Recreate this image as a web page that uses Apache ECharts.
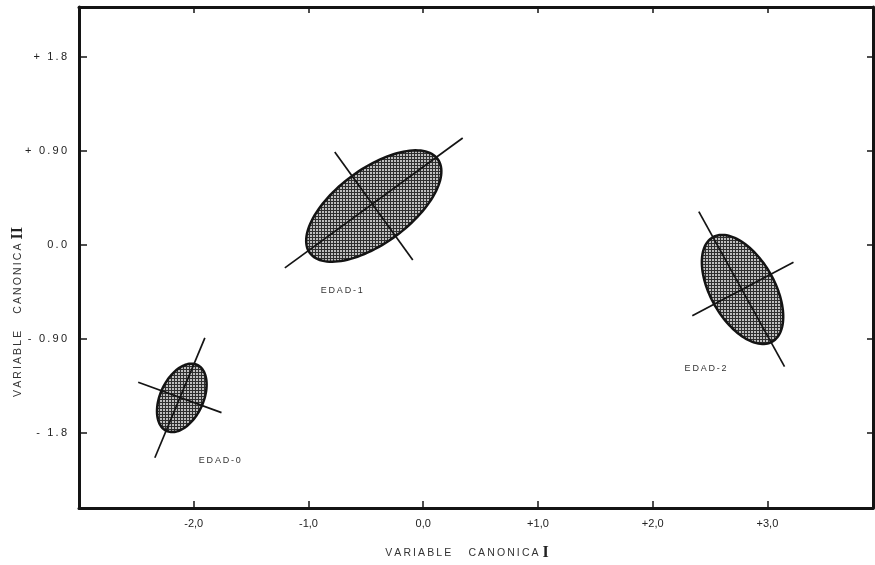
<!DOCTYPE html>
<html>
<head>
<meta charset="utf-8">
<script src="https://cdn.jsdelivr.net/npm/echarts@6/dist/echarts.min.js"></script>
<style>
html,body{margin:0;padding:0;background:#fff;}
#chart{width:875px;height:565px;}
</style>
</head>
<body>
<div id="chart"></div>
<script>
// ---- data ----
const xMin = -3, xMax = 3.92, yMin = -2.52, yMax = 2.28;
const xTicks = [-2, -1, 0, 1, 2, 3];
const xTickLabels = ['-2,0', '-1,0', '0,0', '+1,0', '+2,0', '+3,0'];
const yTicks = [-1.8, -0.9, 0, 0.9, 1.8];
const yTickLabels = ['- 1.8', '- 0.90', '0.0', '+ 0.90', '+ 1.8'];
const groups = ['EDAD-0', 'EDAD-1', 'EDAD-2'];
const centers = [[-2.104, -1.465], [-0.431, 0.373], [2.783, -0.426]];
const majorTips = [[-1.970, -1.149], [0.126, 0.823], [2.524, 0.074]];
const minorTips = [[-2.280, -1.395], [-0.240, 0.086], [2.539, -0.574]];
const majorLines = [[[-2.339, -2.039], [-1.903, -0.890]], [[-1.206, -0.220], [0.344, 1.025]], [[2.402, 0.319], [3.149, -1.165]]];
const minorLines = [[[-2.484, -1.315], [-1.758, -1.606]], [[-0.771, 0.890], [-0.091, -0.144]], [[2.345, -0.677], [3.227, -0.166]]];
const labelAnchors = [[-1.773, -2.068], [-0.710, -0.440], [2.461, -1.187]];
const xTitle = 'VARIABLE   CANONICA';
const yTitle = 'VARIABLE   CANONICA';

// ---- helpers ----
function spaced(s) { return s.split('').join('\u2009'); }
const pat = document.createElement('canvas');
pat.width = 3; pat.height = 3;
(function () {
  const g = pat.getContext('2d');
  g.fillStyle = '#bdbdbd'; g.fillRect(0, 0, 3, 3);
  g.fillStyle = '#2e2e2e'; g.fillRect(0, 0, 3, 1); g.fillRect(0, 0, 1, 3);
})();
const ink = '#141414';
const tickFont = '"Liberation Sans", "DejaVu Sans", sans-serif';

const chart = echarts.init(document.getElementById('chart'), null, { renderer: 'canvas' });

function renderItem(params, api) {
  const i = api.value(2);
  const c = api.coord(centers[i]);
  const mt = api.coord(majorTips[i]);
  const nt = api.coord(minorTips[i]);
  const a = Math.hypot(mt[0] - c[0], mt[1] - c[1]);
  const b = Math.hypot(nt[0] - c[0], nt[1] - c[1]);
  const ux = (mt[0] - c[0]) / a, uy = (mt[1] - c[1]) / a;
  const vx = -uy, vy = ux;
  const pts = [];
  for (let k = 0; k < 120; k++) {
    const t = k / 120 * Math.PI * 2;
    const ca = Math.cos(t) * a, sb = Math.sin(t) * b;
    pts.push([c[0] + ca * ux + sb * vx, c[1] + ca * uy + sb * vy]);
  }
  const m0 = api.coord(majorLines[i][0]), m1 = api.coord(majorLines[i][1]);
  const n0 = api.coord(minorLines[i][0]), n1 = api.coord(minorLines[i][1]);
  const lp = api.coord(labelAnchors[i]);
  return {
    type: 'group',
    children: [
      { type: 'polygon', shape: { points: pts }, style: { fill: { image: pat, repeat: 'repeat' }, stroke: ink, lineWidth: 2.5 } },
      { type: 'line', shape: { x1: m0[0], y1: m0[1], x2: m1[0], y2: m1[1] }, style: { stroke: ink, lineWidth: 1.7 } },
      { type: 'line', shape: { x1: n0[0], y1: n0[1], x2: n1[0], y2: n1[1] }, style: { stroke: ink, lineWidth: 1.7 } },
      { type: 'text', style: { text: spaced(groups[i]), x: lp[0], y: lp[1], fill: '#333', font: '9px "Liberation Sans", sans-serif', textAlign: 'center', textVerticalAlign: 'middle' } }
    ]
  };
}

const axisLine = { onZero: false, lineStyle: { color: ink, width: 3 } };
const tickStyle = { color: ink, width: 1.5 };

chart.setOption({
  animation: false,
  backgroundColor: '#fff',
  grid: { left: 79, right: 2, top: 7, bottom: 57, containLabel: false, outerBoundsMode: 'none' },
  xAxis: [
    {
      type: 'value', min: xMin, max: xMax, position: 'bottom',
      axisLine: axisLine,
      axisTick: { inside: true, length: 7, customValues: xTicks, lineStyle: tickStyle },
      axisLabel: {
        customValues: xTicks, margin: 10, fontSize: 11, color: '#222', fontFamily: tickFont,
        formatter: v => xTickLabels[xTicks.findIndex(t => Math.abs(t - v) < 1e-6)] || ''
      },
      splitLine: { show: false }
    },
    {
      type: 'value', min: xMin, max: xMax, position: 'top',
      axisLine: axisLine,
      axisTick: { inside: true, length: 6, customValues: xTicks, lineStyle: tickStyle },
      axisLabel: { show: false },
      splitLine: { show: false }
    }
  ],
  yAxis: [
    {
      type: 'value', min: yMin, max: yMax, position: 'left',
      axisLine: axisLine,
      axisTick: { inside: true, length: 8, customValues: yTicks, lineStyle: tickStyle },
      axisLabel: {
        customValues: yTicks, margin: 12, fontSize: 11, color: '#222', fontFamily: tickFont,
        formatter: v => spaced(yTickLabels[yTicks.findIndex(t => Math.abs(t - v) < 1e-6)] || '')
      },
      splitLine: { show: false }
    },
    {
      type: 'value', min: yMin, max: yMax, position: 'right',
      axisLine: axisLine,
      axisTick: { inside: true, length: 6, customValues: yTicks, lineStyle: tickStyle },
      axisLabel: { show: false },
      splitLine: { show: false }
    }
  ],
  graphic: [
    {
      type: 'text', x: 467, y: 553,
      style: {
        text: '{a|' + spaced(xTitle) + '}{b| I}',
        rich: {
          a: { fontSize: 10.5, fill: '#333', fontFamily: '"Liberation Sans", sans-serif' },
          b: { fontSize: 16, fill: '#222', fontFamily: '"Liberation Serif", serif', fontWeight: 'bold' }
        },
        textAlign: 'center', textVerticalAlign: 'middle'
      }
    },
    {
      type: 'text', x: 18, y: 312, rotation: Math.PI / 2,
      style: {
        text: '{a|' + spaced(yTitle) + '}{b| II}',
        rich: {
          a: { fontSize: 10.5, fill: '#333', fontFamily: '"Liberation Sans", sans-serif' },
          b: { fontSize: 16, fill: '#222', fontFamily: '"Liberation Serif", serif', fontWeight: 'bold' }
        },
        textAlign: 'center', textVerticalAlign: 'middle'
      }
    }
  ],
  series: [
    {
      type: 'custom',
      xAxisIndex: 0, yAxisIndex: 0,
      renderItem: renderItem,
      encode: { x: 0, y: 1 },
      data: groups.map((g, i) => [centers[i][0], centers[i][1], i]),
      clip: false
    }
  ]
});
</script>
</body>
</html>
